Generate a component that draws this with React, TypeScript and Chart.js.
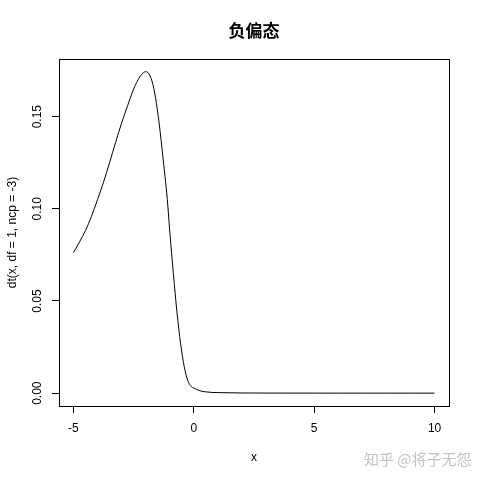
import React, { useRef, useEffect } from "react";
import { Chart, registerables } from "chart.js";

Chart.register(...registerables);

const xValues = [
  -5, -4.75, -4.5, -4.25, -4, -3.75, -3.5, -3.25, -3, -2.75, -2.5, -2.25, -2.1, -2,
  -1.85, -1.7, -1.55, -1.4, -1.25, -1.1, -1, -0.85, -0.7, -0.55, -0.4, -0.25, -0.1,
  0, 0.25, 0.5, 0.75, 1, 1.5, 2, 3, 4, 5, 6, 7, 8, 9, 10,
];
const densityValues = [
  0.0762, 0.082, 0.0882, 0.096, 0.105, 0.1145, 0.125, 0.136, 0.1465, 0.156, 0.165,
  0.1715, 0.1738, 0.1744, 0.173, 0.1675, 0.157, 0.142, 0.124, 0.105, 0.088, 0.065,
  0.044, 0.027, 0.0145, 0.0068, 0.0035, 0.0028, 0.0013, 0.0007, 0.0004, 0.0003,
  0.0002, 0.0001, 0.00005, 0.00003, 0.00002, 0.00001, 0.00001, 0, 0, 0,
];
const xTicks = [-5, 0, 5, 10];
const yTicks = [0, 0.05, 0.1, 0.15];

const titleText = "负偏态";
const watermark = "知乎 @将子无怨";

const labelFont = { family: "'Liberation Sans', Arial, sans-serif", size: 12 };

// R style frame, title and watermark
const rFrame = {
  id: "rFrame",
  afterDraw(chart: Chart) {
    const { ctx, chartArea } = chart;
    ctx.save();
    ctx.strokeStyle = "#000";
    ctx.lineWidth = 1;
    ctx.strokeRect(
      Math.round(chartArea.left) + 0.5,
      Math.round(chartArea.top) + 0.5,
      Math.round(chartArea.right - chartArea.left),
      Math.round(chartArea.bottom - chartArea.top)
    );
    ctx.fillStyle = "#000";
    ctx.textAlign = "center";
    ctx.textBaseline = "middle";
    ctx.font = "bold 17px 'Noto Sans CJK SC', sans-serif";
    ctx.fillText(titleText, (chartArea.left + chartArea.right) / 2, 31);
    ctx.fillStyle = "#c4c4c4";
    ctx.textAlign = "left";
    ctx.font = "15px 'Noto Sans CJK SC', sans-serif";
    ctx.fillText(watermark, 364, 459);
    ctx.restore();
  },
};

const App = () => {
  const canvasRef = useRef<HTMLCanvasElement>(null);
  const chartRef = useRef<Chart | null>(null);

  useEffect(() => {
    document.body.style.margin = "0";
    const canvas = canvasRef.current;
    if (!canvas) return;
    if (chartRef.current) chartRef.current.destroy();

    chartRef.current = new Chart(canvas, {
      type: "line",
      data: {
        datasets: [
          {
            data: xValues.map((x, i) => ({ x, y: densityValues[i] })),
            borderColor: "#000",
            borderWidth: 1,
            pointRadius: 0,
            fill: false,
            cubicInterpolationMode: "monotone",
          },
        ],
      },
      options: {
        responsive: false,
        animation: false,
        devicePixelRatio: 1,
        layout: { padding: { top: 59, right: 31, left: 0, bottom: 0 } },
        plugins: {
          legend: { display: false },
          tooltip: { enabled: false },
          title: { display: false },
        },
        scales: {
          x: {
            type: "linear",
            min: -5.6,
            max: 10.6,
            afterBuildTicks: (scale: any) => {
              scale.ticks = xTicks.map((v) => ({ value: v }));
            },
            afterFit: (scale: any) => {
              scale.height = 74;
            },
            grid: {
              drawOnChartArea: false,
              drawTicks: true,
              tickLength: 7,
              tickColor: "#000",
              lineWidth: 1,
            },
            border: { display: false },
            ticks: {
              color: "#000",
              font: labelFont,
              padding: 8,
              maxRotation: 0,
              callback: (v: any) => String(v),
            },
            title: {
              display: true,
              text: "x",
              color: "#000",
              font: labelFont,
              padding: { top: 0, bottom: 15 },
            },
          },
          y: {
            type: "linear",
            min: -0.00697,
            max: 0.1813,
            afterBuildTicks: (scale: any) => {
              scale.ticks = yTicks.map((v) => ({ value: v }));
            },
            afterFit: (scale: any) => {
              scale.width = 59;
            },
            grid: {
              drawOnChartArea: false,
              drawTicks: true,
              tickLength: 7,
              tickColor: "#000",
              lineWidth: 1,
            },
            border: { display: false },
            ticks: {
              color: "#000",
              font: labelFont,
              padding: 3,
              minRotation: 90,
              maxRotation: 90,
              crossAlign: "center",
              callback: (v: any) => Number(v).toFixed(2),
            },
            title: {
              display: true,
              text: "dt(x, df = 1, ncp = -3)",
              color: "#000",
              font: labelFont,
              padding: { top: 5, bottom: 0 },
            },
          },
        },
      },
      plugins: [rFrame],
    });

    return () => {
      chartRef.current?.destroy();
      chartRef.current = null;
    };
  }, []);

  return <canvas ref={canvasRef} width={480} height={480} style={{ display: "block" }} />;
};

export default App;
